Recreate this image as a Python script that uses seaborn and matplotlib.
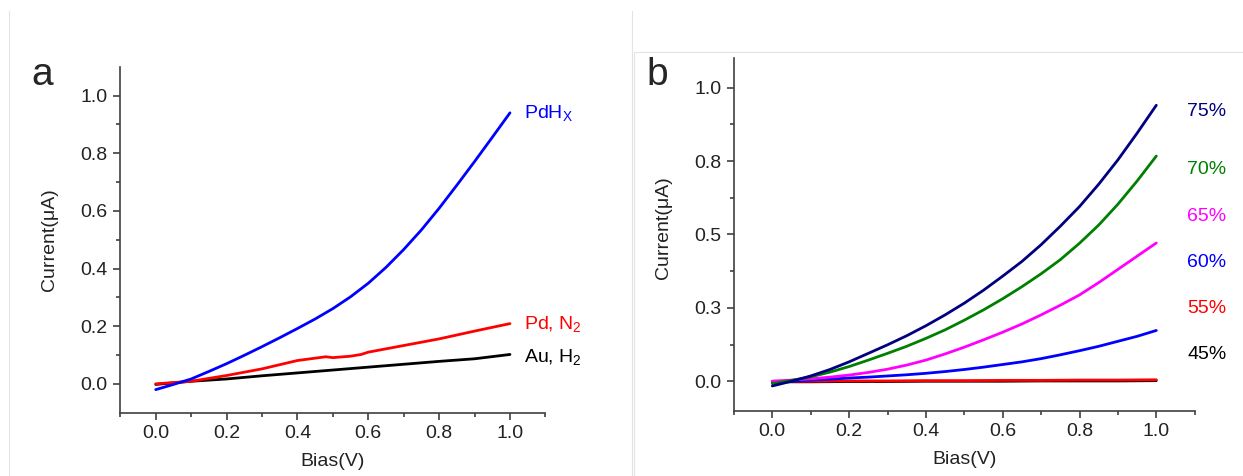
import pandas as pd
import seaborn as sns
import matplotlib.pyplot as plt
from matplotlib.ticker import MultipleLocator, FixedLocator
from matplotlib.lines import Line2D

# -----------------------
# Data
# -----------------------

bias = [0.0, 0.1, 0.2, 0.3, 0.4, 0.5, 0.6, 0.7, 0.8, 0.9, 1.0]
bias_fine = [0.0, 0.05, 0.1, 0.15, 0.2, 0.25, 0.3, 0.35, 0.4, 0.45, 0.5,
             0.55, 0.6, 0.65, 0.7, 0.75, 0.8, 0.85, 0.9, 0.95, 1.0]

# panel a
pdhx = [-0.020, -0.002, 0.017, 0.043, 0.070, 0.099, 0.129, 0.160, 0.192, 0.225, 0.261,
        0.302, 0.349, 0.404, 0.466, 0.534, 0.609, 0.689, 0.771, 0.855, 0.940]
bias_pd = [0.0, 0.1, 0.2, 0.3, 0.4, 0.48, 0.5, 0.55, 0.58, 0.6, 0.7, 0.8, 0.9, 1.0]
pd_n2 = [0.000, 0.009, 0.029, 0.052, 0.081, 0.094, 0.091, 0.096, 0.102, 0.110,
         0.133, 0.156, 0.183, 0.209]
au_h2 = [-0.002, 0.009, 0.017, 0.028, 0.038, 0.048, 0.058, 0.068, 0.078, 0.087, 0.102]

# panel b
rh_75 = [-0.016, 0.000, 0.018, 0.040, 0.066, 0.095, 0.124, 0.155, 0.189, 0.226, 0.266,
         0.310, 0.358, 0.408, 0.465, 0.528, 0.595, 0.671, 0.754, 0.845, 0.940]
rh_70 = [-0.008, 0.003, 0.015, 0.031, 0.050, 0.072, 0.095, 0.119, 0.146, 0.175, 0.208,
         0.243, 0.281, 0.322, 0.366, 0.414, 0.470, 0.532, 0.603, 0.682, 0.767]
rh_65 = [0.000, 0.004, 0.008, 0.014, 0.021, 0.030, 0.041, 0.055, 0.072, 0.093, 0.116,
         0.141, 0.167, 0.195, 0.226, 0.259, 0.294, 0.336, 0.381, 0.426, 0.471]
rh_60 = [-0.003, 0.000, 0.004, 0.007, 0.011, 0.014, 0.018, 0.022, 0.027, 0.033, 0.040,
         0.048, 0.057, 0.066, 0.077, 0.090, 0.104, 0.119, 0.136, 0.153, 0.173]
rh_55 = [0.000, 0.000, 0.001, 0.001, 0.002, 0.002, 0.003, 0.003, 0.004, 0.004, 0.005]
rh_45 = [-0.002, -0.002, -0.001, -0.001, 0.000, 0.000, 0.000, 0.001, 0.001, 0.001, 0.002]

labels_a = ["PdH$_{X}$", "Pd, N$_{2}$", "Au, H$_{2}$"]
colors_a = ["#0000ff", "#ff0000", "#000000"]
labels_b = ["75%", "70%", "65%", "60%", "55%", "45%"]
colors_b = ["#000080", "#008000", "#ff00ff", "#0000ff", "#ff0000", "#000000"]

xticks = [0.0, 0.2, 0.4, 0.6, 0.8, 1.0]
xticklabels = ["0.0", "0.2", "0.4", "0.6", "0.8", "1.0"]
yticks_b = [0.0, 0.25, 0.5, 0.75, 1.0]
yticklabels_b = ["0.0", "0.3", "0.5", "0.8", "1.0"]

df_a = pd.concat([
    pd.DataFrame({"bias": bias_fine, "current": pdhx, "sample": labels_a[0]}),
    pd.DataFrame({"bias": bias_pd, "current": pd_n2, "sample": labels_a[1]}),
    pd.DataFrame({"bias": bias, "current": au_h2, "sample": labels_a[2]}),
])

series_b = [(bias_fine, rh_75), (bias_fine, rh_70), (bias_fine, rh_65),
            (bias_fine, rh_60), (bias, rh_55), (bias, rh_45)]
df_b = pd.concat([
    pd.DataFrame({"bias": xs, "current": ys, "rh": lab})
    for lab, (xs, ys) in zip(labels_b, series_b)
])

# -----------------------
# Style
# -----------------------

sns.set_style("ticks")
plt.rcParams["font.family"] = ["Liberation Sans", "DejaVu Sans"]
plt.rcParams["mathtext.default"] = "regular"
plt.rcParams["axes.edgecolor"] = "#404040"
plt.rcParams["xtick.color"] = "#404040"
plt.rcParams["ytick.color"] = "#404040"
plt.rcParams["xtick.labelcolor"] = "#222222"
plt.rcParams["ytick.labelcolor"] = "#222222"

FS = 14

fig = plt.figure(figsize=(12.43, 4.76), dpi=100)
W, H = 1243, 476
ax_a = fig.add_axes([120.3 / W, 1 - 412.7 / H, 425.1 / W, 346.0 / H])
ax_b = fig.add_axes([733.9 / W, 1 - 410.6 / H, 460.8 / W, 352.3 / H])

sns.lineplot(data=df_a, x="bias", y="current", hue="sample",
             palette=dict(zip(labels_a, colors_a)), hue_order=labels_a[::-1],
             sort=False, estimator=None, linewidth=2.0, legend=False, ax=ax_a)
sns.lineplot(data=df_b, x="bias", y="current", hue="rh",
             palette=dict(zip(labels_b, colors_b)), hue_order=labels_b[::-1],
             sort=False, estimator=None, linewidth=2.0, legend=False, ax=ax_b)

for ax in (ax_a, ax_b):
    for ln in ax.lines:
        ln.set_solid_joinstyle("round")
    ax.set_xlim(-0.1, 1.1)
    ax.set_ylim(-0.1, 1.1)
    sns.despine(ax=ax)
    ax.spines["left"].set_linewidth(1.2)
    ax.spines["bottom"].set_linewidth(1.2)
    ax.xaxis.set_major_locator(FixedLocator(xticks))
    ax.xaxis.set_minor_locator(MultipleLocator(0.1))
    ax.set_xticklabels(xticklabels)
    ax.tick_params(which="major", length=5, width=1.2, labelsize=FS, pad=4)
    ax.tick_params(which="minor", length=3, width=1.2)
    ax.set_xlabel("Bias(V)", fontsize=FS, labelpad=8, color="#222222")
    ax.set_ylabel("Current(\u03bcA)", fontsize=FS, labelpad=16, color="#222222")

ax_a.yaxis.set_major_locator(FixedLocator(xticks))
ax_a.yaxis.set_minor_locator(FixedLocator([0.1, 0.3, 0.5, 0.7, 0.9]))
ax_a.set_yticklabels(xticklabels)

ax_b.yaxis.set_major_locator(FixedLocator(yticks_b))
ax_b.yaxis.set_minor_locator(FixedLocator([0.125, 0.375, 0.625, 0.875]))
ax_b.set_yticklabels(yticklabels_b)
ax_b.yaxis.set_label_coords(-0.134, 0.52)

# curve labels
for lab, col, y in zip(labels_a, colors_a, [0.921, 0.191, 0.075]):
    ax_a.text(1.04, y, lab, color=col, fontsize=FS, va="baseline",
              ha="left", clip_on=False)
for lab, col, y in zip(labels_b, colors_b, [0.918, 0.721, 0.562, 0.406, 0.249, 0.091]):
    ax_b.text(1.08, y, lab, color=col, fontsize=FS, va="center",
              ha="left", clip_on=False)

# panel letters
fig.text(31 / W, 1 - 85 / H, "a", fontsize=28, va="baseline", ha="left")
fig.text(646 / W, 1 - 85 / H, "b", fontsize=28, va="baseline", ha="left")

# faint frame lines of the source figure
for x0, y0, x1, y1 in [(8.5, 11, 8.5, 476), (631.5, 11, 631.5, 476),
                       (633.5, 52, 633.5, 476), (633.5, 52, 1243, 52)]:
    fig.add_artist(Line2D([x0 / W, x1 / W], [1 - y0 / H, 1 - y1 / H],
                          color="#e3e3e3", linewidth=0.8))

fig.savefig("out.png", dpi=100)
